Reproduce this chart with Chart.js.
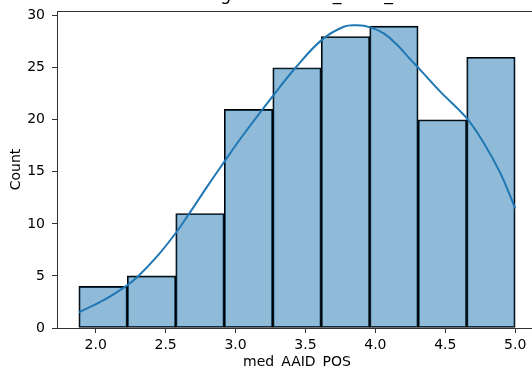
<!DOCTYPE html>
<html>
<head>
<meta charset="utf-8">
<script src="https://cdn.jsdelivr.net/npm/chart.js@4"></script>
<style>
  html, body { margin: 0; padding: 0; overflow: hidden; background: #fff; }
  #wrap { position: absolute; left: 0; top: 0; width: 560px; height: 368px; }
</style>
</head>
<body>
<div id="wrap"><canvas id="hist" width="560" height="368"></canvas></div>
<script>
// histogram data
const binEdges = [1.879, 2.226, 2.572, 2.919, 3.266, 3.613, 3.959, 4.306, 4.653, 5.0];
const counts = [4, 5, 11, 21, 25, 28, 29, 20, 26];

// kde curve (scaled to counts)
const kdeX = [1.879, 2.06, 2.214, 2.298, 2.44, 2.571, 2.679, 2.798, 2.921, 3.036, 3.262, 3.429, 3.619,
              3.774, 3.869, 3.964, 4.06, 4.155, 4.25, 4.321, 4.464, 4.65, 4.774, 4.893, 5.0];
const kdeY = [1.5, 2.7, 4.0, 4.9, 6.9, 9.1, 11.2, 13.6, 16.0, 18.2, 22.2, 25.0, 27.7,
              28.94, 29.07, 28.88, 28.3, 27.2, 25.8, 24.8, 22.7, 20.2, 17.8, 14.9, 11.5];

const xTicks = [2.0, 2.5, 3.0, 3.5, 4.0, 4.5, 5.0];
const yTicks = [0, 5, 10, 15, 20, 25, 30];

const titleText = 'Histogram of med_AAID_POS';
const xLabel = 'med_AAID_POS';
const yLabel = 'Count';

const xMin = 1.723, xMax = 5.156;
const yMin = 0, yMax = 30.45;

Chart.defaults.font.family = '"DejaVu Sans", sans-serif';
Chart.defaults.font.size = 14;
Chart.defaults.color = '#000';

let barData = counts.map((c, i) => ({ x: (binEdges[i] + binEdges[i + 1]) / 2, y: c }));
let kdeData = kdeX.map((x, i) => ({ x: x, y: kdeY[i] }));

// title sits mostly above the picture, only the bottom of it shows
const cutTitle = {
    id: 'cutTitle',
    afterDraw(chart) {
        const { ctx, chartArea } = chart;
        ctx.save();
        ctx.font = '17.4px "DejaVu Sans"';
        ctx.fillStyle = '#000';
        ctx.textAlign = 'center';
        ctx.textBaseline = 'alphabetic';
        ctx.fillText(titleText, (chartArea.left + chartArea.right) / 2 + 5, 0);
        ctx.restore();
    }
};

const spine = '#333';

const ctx = document.getElementById('hist').getContext('2d');
new Chart(ctx, {
    type: 'bar',
    data: {
        datasets: [
            {
                type: 'line',
                label: 'kde',
                data: kdeData,
                borderColor: '#1f77b4',
                borderWidth: 2,
                pointRadius: 0,
                tension: 0.4,
                fill: false,
                order: 0
            },
            {
                label: yLabel,
                data: barData,
                backgroundColor: 'rgba(31,119,180,0.5)',
                borderColor: '#000',
                borderWidth: 1.2,
                borderSkipped: false,
                barPercentage: 1,
                categoryPercentage: 1,
                order: 1
            }
        ]
    },
    options: {
        responsive: false,
        animation: false,
        layout: { padding: { top: 11, right: 23, left: 0, bottom: 0 } },
        plugins: {
            legend: { display: false },
            tooltip: { enabled: false }
        },
        scales: {
            x: {
                type: 'linear',
                position: 'bottom',
                offset: false,
                min: xMin,
                max: xMax,
                afterBuildTicks: s => { s.ticks = xTicks.map(v => ({ value: v })); },
                afterFit: s => { s.height = 40; s.paddingLeft = 0; s.paddingRight = 0; },
                ticks: { padding: 4, callback: v => v.toFixed(1), maxRotation: 0, autoSkip: false },
                grid: { offset: false, drawOnChartArea: false, tickLength: 5, tickColor: spine },
                border: { color: spine, width: 1 },
                title: { display: true, text: xLabel, padding: { top: 0, bottom: -3 } }
            },
            x2: {
                type: 'linear',
                position: 'top',
                offset: false,
                min: xMin,
                max: xMax,
                ticks: { display: false },
                grid: { display: false, drawTicks: false },
                border: { display: true, color: spine, width: 1 },
                afterFit: s => { s.height = 0; s.paddingLeft = 0; s.paddingRight = 0; }
            },
            y: {
                min: yMin,
                max: yMax,
                afterBuildTicks: s => { s.ticks = yTicks.map(v => ({ value: v })); },
                afterFit: s => { s.width = 57; s.paddingTop = 0; s.paddingBottom = 0; },
                ticks: { padding: 7 },
                grid: { drawOnChartArea: false, tickLength: 5, tickColor: spine },
                border: { color: spine, width: 1 },
                title: { display: true, text: yLabel, padding: { top: 8, bottom: 0 } }
            }
        }
    },
    plugins: [cutTitle]
});
</script>
</body>
</html>
